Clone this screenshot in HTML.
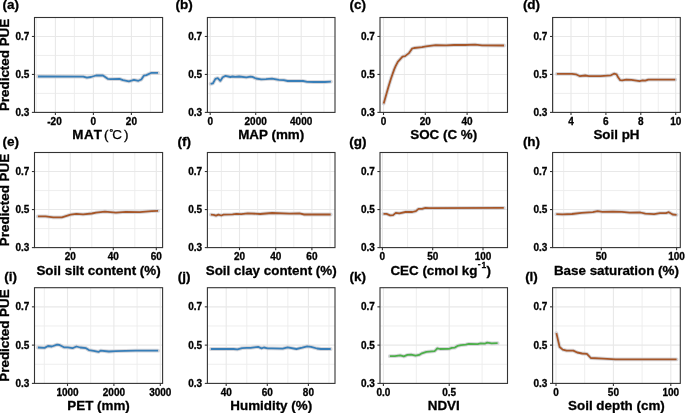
<!DOCTYPE html>
<html><head><meta charset="utf-8"><title>PDP</title><style>
html,body{margin:0;padding:0;background:#fff;}
svg{display:block;will-change:transform;}
text{font-family:"Liberation Sans",sans-serif;font-weight:bold;fill:#000;stroke:#000;stroke-width:0.3px;}
.tl{font-size:10px;}
.xt{font-size:13.4px;}
.tag{font-size:13.5px;}
.gm{stroke:#ececec;stroke-width:0.9;}
.gM{stroke:#e8e8e8;stroke-width:1.1;}
.bd{fill:none;stroke:#333;stroke-width:1.1;}
.tk{stroke:#333;stroke-width:1.1;}
.halo{fill:none;stroke:#c9c9cf;stroke-width:3.8;stroke-linejoin:round;stroke-linecap:round;opacity:0.75;}
.ln{fill:none;stroke-width:1.8;stroke-linejoin:round;stroke-linecap:butt;}
</style></head>
<body><svg width="685" height="413" viewBox="0 0 685 413">
<rect width="685" height="413" fill="#fff"/>
<line x1="34.5" x2="162.6" y1="93.42" y2="93.42" class="gm"/>
<line x1="34.5" x2="162.6" y1="55.46" y2="55.46" class="gm"/>
<line x1="36.4" x2="36.4" y1="17.5" y2="112.4" class="gm"/>
<line x1="74.4" x2="74.4" y1="17.5" y2="112.4" class="gm"/>
<line x1="112.4" x2="112.4" y1="17.5" y2="112.4" class="gm"/>
<line x1="150.4" x2="150.4" y1="17.5" y2="112.4" class="gm"/>
<line x1="34.5" x2="162.6" y1="74.44" y2="74.44" class="gM"/>
<line x1="34.5" x2="162.6" y1="36.48" y2="36.48" class="gM"/>
<line x1="55.4" x2="55.4" y1="17.5" y2="112.4" class="gM"/>
<line x1="93.4" x2="93.4" y1="17.5" y2="112.4" class="gM"/>
<line x1="131.4" x2="131.4" y1="17.5" y2="112.4" class="gM"/>
<path d="M38,76.5 L83.3,76.6 L86.9,77.7 L91,77 L96,75.5 L103,75.5 L107.7,78.8 L110.7,79.2 L119.5,78.9 L123,80.2 L128.9,81.3 L134,79.9 L138.4,80.8 L141.3,79.5 L143.8,75.7 L146.4,75.1 L151.5,72.8 L158,72.9" class="halo"/>
<path d="M38,76.5 L83.3,76.6 L86.9,77.7 L91,77 L96,75.5 L103,75.5 L107.7,78.8 L110.7,79.2 L119.5,78.9 L123,80.2 L128.9,81.3 L134,79.9 L138.4,80.8 L141.3,79.5 L143.8,75.7 L146.4,75.1 L151.5,72.8 L158,72.9" class="ln" stroke="#377EB8"/>
<rect x="34.5" y="17.5" width="128.1" height="94.9" class="bd"/>
<line x1="31.9" x2="34.5" y1="112.4" y2="112.4" class="tk"/>
<text x="29.3" y="115.9" text-anchor="end" class="tl">0.3</text>
<line x1="31.9" x2="34.5" y1="74.44" y2="74.44" class="tk"/>
<text x="29.3" y="77.94" text-anchor="end" class="tl">0.5</text>
<line x1="31.9" x2="34.5" y1="36.48" y2="36.48" class="tk"/>
<text x="29.3" y="39.98" text-anchor="end" class="tl">0.7</text>
<line x1="55.4" x2="55.4" y1="112.4" y2="115" class="tk"/>
<text x="54.5" y="124.7" text-anchor="middle" class="tl">-20</text>
<line x1="93.4" x2="93.4" y1="112.4" y2="115" class="tk"/>
<text x="93.4" y="124.7" text-anchor="middle" class="tl">0</text>
<line x1="131.4" x2="131.4" y1="112.4" y2="115" class="tk"/>
<text x="131.4" y="124.7" text-anchor="middle" class="tl">20</text>
<text x="72.3" y="139.4" class="xt">M</text>
<text x="84" y="139.4" class="xt">A</text>
<text x="93.8" y="139.4" class="xt">T</text>
<text x="104.1" y="138.5" class="xt" style="font-weight:normal;stroke:#000;stroke-width:0.35">(</text>
<text x="109.6" y="134.8" font-size="9">°</text>
<text x="112.3" y="138.8" class="xt" style="font-weight:normal;stroke:#000;stroke-width:0.25">C</text>
<text x="123.9" y="138.5" class="xt" style="font-weight:normal;stroke:#000;stroke-width:0.35">)</text>
<text transform="translate(9.1,64.95) rotate(-90)" text-anchor="middle" class="xt">Predicted PUE</text>
<text x="10.7" y="9.3" text-anchor="middle" class="tag">(a)</text>
<line x1="207.4" x2="335" y1="93.42" y2="93.42" class="gm"/>
<line x1="207.4" x2="335" y1="55.46" y2="55.46" class="gm"/>
<line x1="232.95" x2="232.95" y1="17.5" y2="112.4" class="gm"/>
<line x1="278.45" x2="278.45" y1="17.5" y2="112.4" class="gm"/>
<line x1="323.95" x2="323.95" y1="17.5" y2="112.4" class="gm"/>
<line x1="207.4" x2="335" y1="74.44" y2="74.44" class="gM"/>
<line x1="207.4" x2="335" y1="36.48" y2="36.48" class="gM"/>
<line x1="210.2" x2="210.2" y1="17.5" y2="112.4" class="gM"/>
<line x1="255.7" x2="255.7" y1="17.5" y2="112.4" class="gM"/>
<line x1="301.2" x2="301.2" y1="17.5" y2="112.4" class="gM"/>
<path d="M210.6,83.8 L213,83.3 L215.4,78.9 L217.8,78.1 L220.3,80.9 L222.7,77.3 L225.5,75.9 L230.3,77 L232.7,76.5 L235.1,76.9 L239.1,76.5 L246.4,77.3 L250.4,76.7 L252.4,76.9 L256,78.5 L261.2,79.3 L266,79.1 L272,78.6 L278.9,79.8 L283.7,80.1 L287.7,81 L299.8,81 L303.1,81 L307.2,81.8 L314,82 L324.8,82 L330.9,81.7" class="halo"/>
<path d="M210.6,83.8 L213,83.3 L215.4,78.9 L217.8,78.1 L220.3,80.9 L222.7,77.3 L225.5,75.9 L230.3,77 L232.7,76.5 L235.1,76.9 L239.1,76.5 L246.4,77.3 L250.4,76.7 L252.4,76.9 L256,78.5 L261.2,79.3 L266,79.1 L272,78.6 L278.9,79.8 L283.7,80.1 L287.7,81 L299.8,81 L303.1,81 L307.2,81.8 L314,82 L324.8,82 L330.9,81.7" class="ln" stroke="#377EB8"/>
<rect x="207.4" y="17.5" width="127.6" height="94.9" class="bd"/>
<line x1="204.8" x2="207.4" y1="112.4" y2="112.4" class="tk"/>
<text x="202.2" y="115.9" text-anchor="end" class="tl">0.3</text>
<line x1="204.8" x2="207.4" y1="74.44" y2="74.44" class="tk"/>
<text x="202.2" y="77.94" text-anchor="end" class="tl">0.5</text>
<line x1="204.8" x2="207.4" y1="36.48" y2="36.48" class="tk"/>
<text x="202.2" y="39.98" text-anchor="end" class="tl">0.7</text>
<line x1="210.2" x2="210.2" y1="112.4" y2="115" class="tk"/>
<text x="210.2" y="124.7" text-anchor="middle" class="tl">0</text>
<line x1="255.7" x2="255.7" y1="112.4" y2="115" class="tk"/>
<text x="255.7" y="124.7" text-anchor="middle" class="tl">2000</text>
<line x1="301.2" x2="301.2" y1="112.4" y2="115" class="tk"/>
<text x="301.2" y="124.7" text-anchor="middle" class="tl">4000</text>
<text x="271.2" y="139.4" text-anchor="middle" class="xt">MAP (mm)</text>
<text x="184.2" y="9.3" text-anchor="middle" class="tag">(b)</text>
<line x1="380" x2="507.5" y1="93.42" y2="93.42" class="gm"/>
<line x1="380" x2="507.5" y1="55.46" y2="55.46" class="gm"/>
<line x1="404.4" x2="404.4" y1="17.5" y2="112.4" class="gm"/>
<line x1="446.2" x2="446.2" y1="17.5" y2="112.4" class="gm"/>
<line x1="488" x2="488" y1="17.5" y2="112.4" class="gm"/>
<line x1="380" x2="507.5" y1="74.44" y2="74.44" class="gM"/>
<line x1="380" x2="507.5" y1="36.48" y2="36.48" class="gM"/>
<line x1="383.5" x2="383.5" y1="17.5" y2="112.4" class="gM"/>
<line x1="425.3" x2="425.3" y1="17.5" y2="112.4" class="gM"/>
<line x1="467.1" x2="467.1" y1="17.5" y2="112.4" class="gM"/>
<path d="M383.7,103.5 L388.4,86.9 L391,78.5 L394.2,69.4 L395.6,66.1 L397.8,61.8 L402.5,56.7 L405.1,56.1 L409,53.1 L412,48.7 L414.1,48 L420,47.3 L422,47.2 L426.1,46.3 L435.7,45.1 L446.1,45.4 L454.2,45 L465,45 L475.2,44.7 L482,45.4 L504,45.5" class="halo"/>
<path d="M383.7,103.5 L388.4,86.9 L391,78.5 L394.2,69.4 L395.6,66.1 L397.8,61.8 L402.5,56.7 L405.1,56.1 L409,53.1 L412,48.7 L414.1,48 L420,47.3 L422,47.2 L426.1,46.3 L435.7,45.1 L446.1,45.4 L454.2,45 L465,45 L475.2,44.7 L482,45.4 L504,45.5" class="ln" stroke="#A65628"/>
<rect x="380" y="17.5" width="127.5" height="94.9" class="bd"/>
<line x1="377.4" x2="380" y1="112.4" y2="112.4" class="tk"/>
<text x="374.8" y="115.9" text-anchor="end" class="tl">0.3</text>
<line x1="377.4" x2="380" y1="74.44" y2="74.44" class="tk"/>
<text x="374.8" y="77.94" text-anchor="end" class="tl">0.5</text>
<line x1="377.4" x2="380" y1="36.48" y2="36.48" class="tk"/>
<text x="374.8" y="39.98" text-anchor="end" class="tl">0.7</text>
<line x1="383.5" x2="383.5" y1="112.4" y2="115" class="tk"/>
<text x="383.5" y="124.7" text-anchor="middle" class="tl">0</text>
<line x1="425.3" x2="425.3" y1="112.4" y2="115" class="tk"/>
<text x="425.3" y="124.7" text-anchor="middle" class="tl">20</text>
<line x1="467.1" x2="467.1" y1="112.4" y2="115" class="tk"/>
<text x="467.1" y="124.7" text-anchor="middle" class="tl">40</text>
<text x="443.75" y="139.4" text-anchor="middle" class="xt">SOC (C %)</text>
<text x="357.8" y="9.3" text-anchor="middle" class="tag">(c)</text>
<line x1="552.6" x2="680.3" y1="93.42" y2="93.42" class="gm"/>
<line x1="552.6" x2="680.3" y1="55.46" y2="55.46" class="gm"/>
<line x1="553.55" x2="553.55" y1="17.5" y2="112.4" class="gm"/>
<line x1="588.45" x2="588.45" y1="17.5" y2="112.4" class="gm"/>
<line x1="623.35" x2="623.35" y1="17.5" y2="112.4" class="gm"/>
<line x1="658.25" x2="658.25" y1="17.5" y2="112.4" class="gm"/>
<line x1="552.6" x2="680.3" y1="74.44" y2="74.44" class="gM"/>
<line x1="552.6" x2="680.3" y1="36.48" y2="36.48" class="gM"/>
<line x1="571" x2="571" y1="17.5" y2="112.4" class="gM"/>
<line x1="605.9" x2="605.9" y1="17.5" y2="112.4" class="gM"/>
<line x1="640.8" x2="640.8" y1="17.5" y2="112.4" class="gM"/>
<line x1="675.7" x2="675.7" y1="17.5" y2="112.4" class="gM"/>
<path d="M556.8,73.9 L572,73.9 L575.8,74.3 L580,76.2 L585.3,75.5 L589,76.2 L600.4,76.2 L610.9,75.3 L614,73.7 L616.6,74.3 L618.1,77.3 L620.2,80.2 L622.2,80.4 L626.3,79.6 L631.4,79.9 L639.6,81.1 L642.6,80.4 L645.2,80.7 L648.3,79.6 L675.3,79.6" class="halo"/>
<path d="M556.8,73.9 L572,73.9 L575.8,74.3 L580,76.2 L585.3,75.5 L589,76.2 L600.4,76.2 L610.9,75.3 L614,73.7 L616.6,74.3 L618.1,77.3 L620.2,80.2 L622.2,80.4 L626.3,79.6 L631.4,79.9 L639.6,81.1 L642.6,80.4 L645.2,80.7 L648.3,79.6 L675.3,79.6" class="ln" stroke="#A65628"/>
<rect x="552.6" y="17.5" width="127.7" height="94.9" class="bd"/>
<line x1="550" x2="552.6" y1="112.4" y2="112.4" class="tk"/>
<text x="547.4" y="115.9" text-anchor="end" class="tl">0.3</text>
<line x1="550" x2="552.6" y1="74.44" y2="74.44" class="tk"/>
<text x="547.4" y="77.94" text-anchor="end" class="tl">0.5</text>
<line x1="550" x2="552.6" y1="36.48" y2="36.48" class="tk"/>
<text x="547.4" y="39.98" text-anchor="end" class="tl">0.7</text>
<line x1="571" x2="571" y1="112.4" y2="115" class="tk"/>
<text x="571" y="124.7" text-anchor="middle" class="tl">4</text>
<line x1="605.9" x2="605.9" y1="112.4" y2="115" class="tk"/>
<text x="605.9" y="124.7" text-anchor="middle" class="tl">6</text>
<line x1="640.8" x2="640.8" y1="112.4" y2="115" class="tk"/>
<text x="640.8" y="124.7" text-anchor="middle" class="tl">8</text>
<line x1="675.7" x2="675.7" y1="112.4" y2="115" class="tk"/>
<text x="675.7" y="124.7" text-anchor="middle" class="tl">10</text>
<text x="616.45" y="139.4" text-anchor="middle" class="xt">Soil pH</text>
<text x="531.5" y="9.3" text-anchor="middle" class="tag">(d)</text>
<line x1="34.5" x2="162.6" y1="228.58" y2="228.58" class="gm"/>
<line x1="34.5" x2="162.6" y1="190.54" y2="190.54" class="gm"/>
<line x1="48.8" x2="48.8" y1="152.5" y2="247.6" class="gm"/>
<line x1="91.8" x2="91.8" y1="152.5" y2="247.6" class="gm"/>
<line x1="134.8" x2="134.8" y1="152.5" y2="247.6" class="gm"/>
<line x1="34.5" x2="162.6" y1="209.56" y2="209.56" class="gM"/>
<line x1="34.5" x2="162.6" y1="171.52" y2="171.52" class="gM"/>
<line x1="70.3" x2="70.3" y1="152.5" y2="247.6" class="gM"/>
<line x1="113.3" x2="113.3" y1="152.5" y2="247.6" class="gM"/>
<line x1="156.3" x2="156.3" y1="152.5" y2="247.6" class="gM"/>
<path d="M37.9,216.4 L45.6,216.4 L53.3,217.3 L61.9,217.3 L70.6,214.6 L76.4,213.8 L83.1,214.3 L91.8,213.5 L96,212.7 L104.9,211.7 L115.9,212.7 L125.8,211.9 L139.7,212.1 L151.6,211.1 L158.1,210.9" class="halo"/>
<path d="M37.9,216.4 L45.6,216.4 L53.3,217.3 L61.9,217.3 L70.6,214.6 L76.4,213.8 L83.1,214.3 L91.8,213.5 L96,212.7 L104.9,211.7 L115.9,212.7 L125.8,211.9 L139.7,212.1 L151.6,211.1 L158.1,210.9" class="ln" stroke="#A65628"/>
<rect x="34.5" y="152.5" width="128.1" height="95.1" class="bd"/>
<line x1="31.9" x2="34.5" y1="247.6" y2="247.6" class="tk"/>
<text x="29.3" y="251.1" text-anchor="end" class="tl">0.3</text>
<line x1="31.9" x2="34.5" y1="209.56" y2="209.56" class="tk"/>
<text x="29.3" y="213.06" text-anchor="end" class="tl">0.5</text>
<line x1="31.9" x2="34.5" y1="171.52" y2="171.52" class="tk"/>
<text x="29.3" y="175.02" text-anchor="end" class="tl">0.7</text>
<line x1="70.3" x2="70.3" y1="247.6" y2="250.2" class="tk"/>
<text x="70.3" y="259.9" text-anchor="middle" class="tl">20</text>
<line x1="113.3" x2="113.3" y1="247.6" y2="250.2" class="tk"/>
<text x="113.3" y="259.9" text-anchor="middle" class="tl">40</text>
<line x1="156.3" x2="156.3" y1="247.6" y2="250.2" class="tk"/>
<text x="156.3" y="259.9" text-anchor="middle" class="tl">60</text>
<text x="98.55" y="274.6" text-anchor="middle" class="xt">Soil silt content (%)</text>
<text transform="translate(9.1,200.05) rotate(-90)" text-anchor="middle" class="xt">Predicted PUE</text>
<text x="10.7" y="145.6" text-anchor="middle" class="tag">(e)</text>
<line x1="207.4" x2="335" y1="228.58" y2="228.58" class="gm"/>
<line x1="207.4" x2="335" y1="190.54" y2="190.54" class="gm"/>
<line x1="221.4" x2="221.4" y1="152.5" y2="247.6" class="gm"/>
<line x1="257.6" x2="257.6" y1="152.5" y2="247.6" class="gm"/>
<line x1="293.8" x2="293.8" y1="152.5" y2="247.6" class="gm"/>
<line x1="330" x2="330" y1="152.5" y2="247.6" class="gm"/>
<line x1="207.4" x2="335" y1="209.56" y2="209.56" class="gM"/>
<line x1="207.4" x2="335" y1="171.52" y2="171.52" class="gM"/>
<line x1="239.5" x2="239.5" y1="152.5" y2="247.6" class="gM"/>
<line x1="275.7" x2="275.7" y1="152.5" y2="247.6" class="gM"/>
<line x1="311.9" x2="311.9" y1="152.5" y2="247.6" class="gM"/>
<path d="M210.8,214.7 L213.6,214.9 L216,215.7 L218.4,214.7 L221.2,215.5 L223.6,214.7 L232.6,214.4 L236.4,213.8 L241.2,214.2 L247.8,213.3 L260.1,214 L272,213 L289.6,213.7 L299.4,213.4 L304.2,214.5 L330.7,214.5" class="halo"/>
<path d="M210.8,214.7 L213.6,214.9 L216,215.7 L218.4,214.7 L221.2,215.5 L223.6,214.7 L232.6,214.4 L236.4,213.8 L241.2,214.2 L247.8,213.3 L260.1,214 L272,213 L289.6,213.7 L299.4,213.4 L304.2,214.5 L330.7,214.5" class="ln" stroke="#A65628"/>
<rect x="207.4" y="152.5" width="127.6" height="95.1" class="bd"/>
<line x1="204.8" x2="207.4" y1="247.6" y2="247.6" class="tk"/>
<text x="202.2" y="251.1" text-anchor="end" class="tl">0.3</text>
<line x1="204.8" x2="207.4" y1="209.56" y2="209.56" class="tk"/>
<text x="202.2" y="213.06" text-anchor="end" class="tl">0.5</text>
<line x1="204.8" x2="207.4" y1="171.52" y2="171.52" class="tk"/>
<text x="202.2" y="175.02" text-anchor="end" class="tl">0.7</text>
<line x1="239.5" x2="239.5" y1="247.6" y2="250.2" class="tk"/>
<text x="239.5" y="259.9" text-anchor="middle" class="tl">20</text>
<line x1="275.7" x2="275.7" y1="247.6" y2="250.2" class="tk"/>
<text x="275.7" y="259.9" text-anchor="middle" class="tl">40</text>
<line x1="311.9" x2="311.9" y1="247.6" y2="250.2" class="tk"/>
<text x="311.9" y="259.9" text-anchor="middle" class="tl">60</text>
<text x="271.2" y="274.6" text-anchor="middle" class="xt">Soil clay content (%)</text>
<text x="184.2" y="145.6" text-anchor="middle" class="tag">(f)</text>
<line x1="380" x2="507.5" y1="228.58" y2="228.58" class="gm"/>
<line x1="380" x2="507.5" y1="190.54" y2="190.54" class="gm"/>
<line x1="407.55" x2="407.55" y1="152.5" y2="247.6" class="gm"/>
<line x1="457.85" x2="457.85" y1="152.5" y2="247.6" class="gm"/>
<line x1="380" x2="507.5" y1="209.56" y2="209.56" class="gM"/>
<line x1="380" x2="507.5" y1="171.52" y2="171.52" class="gM"/>
<line x1="382.4" x2="382.4" y1="152.5" y2="247.6" class="gM"/>
<line x1="432.7" x2="432.7" y1="152.5" y2="247.6" class="gM"/>
<line x1="483" x2="483" y1="152.5" y2="247.6" class="gM"/>
<path d="M383.5,213.9 L386.6,213.9 L390.1,215.3 L393.1,215.1 L395.8,212.9 L399.3,213.3 L405.4,212 L412.4,212 L415.9,211.1 L418.5,208.9 L422,208.9 L425.5,207.8 L429,208.1 L503.8,207.9" class="halo"/>
<path d="M383.5,213.9 L386.6,213.9 L390.1,215.3 L393.1,215.1 L395.8,212.9 L399.3,213.3 L405.4,212 L412.4,212 L415.9,211.1 L418.5,208.9 L422,208.9 L425.5,207.8 L429,208.1 L503.8,207.9" class="ln" stroke="#A65628"/>
<rect x="380" y="152.5" width="127.5" height="95.1" class="bd"/>
<line x1="377.4" x2="380" y1="247.6" y2="247.6" class="tk"/>
<text x="374.8" y="251.1" text-anchor="end" class="tl">0.3</text>
<line x1="377.4" x2="380" y1="209.56" y2="209.56" class="tk"/>
<text x="374.8" y="213.06" text-anchor="end" class="tl">0.5</text>
<line x1="377.4" x2="380" y1="171.52" y2="171.52" class="tk"/>
<text x="374.8" y="175.02" text-anchor="end" class="tl">0.7</text>
<line x1="382.4" x2="382.4" y1="247.6" y2="250.2" class="tk"/>
<text x="382.4" y="259.9" text-anchor="middle" class="tl">0</text>
<line x1="432.7" x2="432.7" y1="247.6" y2="250.2" class="tk"/>
<text x="432.7" y="259.9" text-anchor="middle" class="tl">50</text>
<line x1="483" x2="483" y1="247.6" y2="250.2" class="tk"/>
<text x="483" y="259.9" text-anchor="middle" class="tl">100</text>
<text x="390.4" y="274.6" class="xt">CEC (cmol kg</text>
<text x="477.8" y="267.4" font-size="8.5">-</text>
<text x="481.6" y="268.2" font-size="8.5">1</text>
<text x="486.5" y="274.6" class="xt">)</text>
<text x="357.8" y="145.6" text-anchor="middle" class="tag">(g)</text>
<line x1="552.6" x2="680.3" y1="228.58" y2="228.58" class="gm"/>
<line x1="552.6" x2="680.3" y1="190.54" y2="190.54" class="gm"/>
<line x1="563.65" x2="563.65" y1="152.5" y2="247.6" class="gm"/>
<line x1="638.95" x2="638.95" y1="152.5" y2="247.6" class="gm"/>
<line x1="552.6" x2="680.3" y1="209.56" y2="209.56" class="gM"/>
<line x1="552.6" x2="680.3" y1="171.52" y2="171.52" class="gM"/>
<line x1="601.3" x2="601.3" y1="152.5" y2="247.6" class="gM"/>
<line x1="676.6" x2="676.6" y1="152.5" y2="247.6" class="gM"/>
<path d="M556.3,214.2 L562.5,214.4 L572,214 L581.5,212.8 L592.8,212.1 L597.6,211.2 L602.3,211.9 L612.8,211.7 L621.8,211.9 L629.7,212.6 L640.4,212.5 L645.3,213.7 L654.1,214.2 L660,213.2 L665.9,213.2 L668.8,212.2 L672.7,214.5 L676.6,214.9" class="halo"/>
<path d="M556.3,214.2 L562.5,214.4 L572,214 L581.5,212.8 L592.8,212.1 L597.6,211.2 L602.3,211.9 L612.8,211.7 L621.8,211.9 L629.7,212.6 L640.4,212.5 L645.3,213.7 L654.1,214.2 L660,213.2 L665.9,213.2 L668.8,212.2 L672.7,214.5 L676.6,214.9" class="ln" stroke="#A65628"/>
<rect x="552.6" y="152.5" width="127.7" height="95.1" class="bd"/>
<line x1="550" x2="552.6" y1="247.6" y2="247.6" class="tk"/>
<text x="547.4" y="251.1" text-anchor="end" class="tl">0.3</text>
<line x1="550" x2="552.6" y1="209.56" y2="209.56" class="tk"/>
<text x="547.4" y="213.06" text-anchor="end" class="tl">0.5</text>
<line x1="550" x2="552.6" y1="171.52" y2="171.52" class="tk"/>
<text x="547.4" y="175.02" text-anchor="end" class="tl">0.7</text>
<line x1="601.3" x2="601.3" y1="247.6" y2="250.2" class="tk"/>
<text x="601.3" y="259.9" text-anchor="middle" class="tl">50</text>
<line x1="676.6" x2="676.6" y1="247.6" y2="250.2" class="tk"/>
<text x="676.6" y="259.9" text-anchor="middle" class="tl">100</text>
<text x="616.45" y="274.6" text-anchor="middle" class="xt">Base saturation (%)</text>
<text x="531.5" y="145.6" text-anchor="middle" class="tag">(h)</text>
<line x1="34.5" x2="162.6" y1="364.26" y2="364.26" class="gm"/>
<line x1="34.5" x2="162.6" y1="325.98" y2="325.98" class="gm"/>
<line x1="44.3" x2="44.3" y1="287.7" y2="383.4" class="gm"/>
<line x1="90.7" x2="90.7" y1="287.7" y2="383.4" class="gm"/>
<line x1="137.1" x2="137.1" y1="287.7" y2="383.4" class="gm"/>
<line x1="34.5" x2="162.6" y1="345.12" y2="345.12" class="gM"/>
<line x1="34.5" x2="162.6" y1="306.84" y2="306.84" class="gM"/>
<line x1="67.5" x2="67.5" y1="287.7" y2="383.4" class="gM"/>
<line x1="113.9" x2="113.9" y1="287.7" y2="383.4" class="gM"/>
<line x1="160.3" x2="160.3" y1="287.7" y2="383.4" class="gM"/>
<path d="M37.9,347.5 L44.6,347.9 L48,346 L51.8,346.5 L57.1,344.6 L59.5,345 L63.9,347.3 L67.7,347.3 L72.5,348.2 L76.4,346.5 L80.2,347.5 L86,348.2 L88.9,350.1 L93.7,350.8 L98.5,351.9 L100.5,350.7 L108.9,351.5 L115.9,351.1 L135.7,350.7 L158.1,350.7" class="halo"/>
<path d="M37.9,347.5 L44.6,347.9 L48,346 L51.8,346.5 L57.1,344.6 L59.5,345 L63.9,347.3 L67.7,347.3 L72.5,348.2 L76.4,346.5 L80.2,347.5 L86,348.2 L88.9,350.1 L93.7,350.8 L98.5,351.9 L100.5,350.7 L108.9,351.5 L115.9,351.1 L135.7,350.7 L158.1,350.7" class="ln" stroke="#377EB8"/>
<rect x="34.5" y="287.7" width="128.1" height="95.7" class="bd"/>
<line x1="31.9" x2="34.5" y1="383.4" y2="383.4" class="tk"/>
<text x="29.3" y="386.9" text-anchor="end" class="tl">0.3</text>
<line x1="31.9" x2="34.5" y1="345.12" y2="345.12" class="tk"/>
<text x="29.3" y="348.62" text-anchor="end" class="tl">0.5</text>
<line x1="31.9" x2="34.5" y1="306.84" y2="306.84" class="tk"/>
<text x="29.3" y="310.34" text-anchor="end" class="tl">0.7</text>
<line x1="67.5" x2="67.5" y1="383.4" y2="386" class="tk"/>
<text x="67.5" y="395.7" text-anchor="middle" class="tl">1000</text>
<line x1="113.9" x2="113.9" y1="383.4" y2="386" class="tk"/>
<text x="113.9" y="395.7" text-anchor="middle" class="tl">2000</text>
<line x1="160.3" x2="160.3" y1="383.4" y2="386" class="tk"/>
<text x="160.3" y="395.7" text-anchor="middle" class="tl">3000</text>
<text x="98.55" y="410.4" text-anchor="middle" class="xt">PET (mm)</text>
<text transform="translate(9.1,335.55) rotate(-90)" text-anchor="middle" class="xt">Predicted PUE</text>
<text x="10.7" y="280.5" text-anchor="middle" class="tag">(i)</text>
<line x1="207.4" x2="335" y1="364.26" y2="364.26" class="gm"/>
<line x1="207.4" x2="335" y1="325.98" y2="325.98" class="gm"/>
<line x1="246.75" x2="246.75" y1="287.7" y2="383.4" class="gm"/>
<line x1="287.85" x2="287.85" y1="287.7" y2="383.4" class="gm"/>
<line x1="328.95" x2="328.95" y1="287.7" y2="383.4" class="gm"/>
<line x1="207.4" x2="335" y1="345.12" y2="345.12" class="gM"/>
<line x1="207.4" x2="335" y1="306.84" y2="306.84" class="gM"/>
<line x1="226.2" x2="226.2" y1="287.7" y2="383.4" class="gM"/>
<line x1="267.3" x2="267.3" y1="287.7" y2="383.4" class="gM"/>
<line x1="308.4" x2="308.4" y1="287.7" y2="383.4" class="gM"/>
<path d="M210.8,349 L233.6,349 L237.4,349.4 L242.1,348.1 L246.8,347.8 L250.6,347.8 L258.2,346.9 L261.6,348.3 L263.9,347.5 L267.7,348.3 L272,348.3 L282.7,348.7 L287.6,347.4 L296.4,349 L302.3,347.7 L307.2,346.4 L311.1,346.9 L317,348.5 L320.9,349 L330.7,349" class="halo"/>
<path d="M210.8,349 L233.6,349 L237.4,349.4 L242.1,348.1 L246.8,347.8 L250.6,347.8 L258.2,346.9 L261.6,348.3 L263.9,347.5 L267.7,348.3 L272,348.3 L282.7,348.7 L287.6,347.4 L296.4,349 L302.3,347.7 L307.2,346.4 L311.1,346.9 L317,348.5 L320.9,349 L330.7,349" class="ln" stroke="#377EB8"/>
<rect x="207.4" y="287.7" width="127.6" height="95.7" class="bd"/>
<line x1="204.8" x2="207.4" y1="383.4" y2="383.4" class="tk"/>
<text x="202.2" y="386.9" text-anchor="end" class="tl">0.3</text>
<line x1="204.8" x2="207.4" y1="345.12" y2="345.12" class="tk"/>
<text x="202.2" y="348.62" text-anchor="end" class="tl">0.5</text>
<line x1="204.8" x2="207.4" y1="306.84" y2="306.84" class="tk"/>
<text x="202.2" y="310.34" text-anchor="end" class="tl">0.7</text>
<line x1="226.2" x2="226.2" y1="383.4" y2="386" class="tk"/>
<text x="226.2" y="395.7" text-anchor="middle" class="tl">40</text>
<line x1="267.3" x2="267.3" y1="383.4" y2="386" class="tk"/>
<text x="267.3" y="395.7" text-anchor="middle" class="tl">60</text>
<line x1="308.4" x2="308.4" y1="383.4" y2="386" class="tk"/>
<text x="308.4" y="395.7" text-anchor="middle" class="tl">80</text>
<text x="271.2" y="410.4" text-anchor="middle" class="xt">Humidity (%)</text>
<text x="184.2" y="280.5" text-anchor="middle" class="tag">(j)</text>
<line x1="380" x2="507.5" y1="364.26" y2="364.26" class="gm"/>
<line x1="380" x2="507.5" y1="325.98" y2="325.98" class="gm"/>
<line x1="416.3" x2="416.3" y1="287.7" y2="383.4" class="gm"/>
<line x1="482.1" x2="482.1" y1="287.7" y2="383.4" class="gm"/>
<line x1="380" x2="507.5" y1="345.12" y2="345.12" class="gM"/>
<line x1="380" x2="507.5" y1="306.84" y2="306.84" class="gM"/>
<line x1="383.4" x2="383.4" y1="287.7" y2="383.4" class="gM"/>
<line x1="449.2" x2="449.2" y1="287.7" y2="383.4" class="gM"/>
<path d="M389.8,356.2 L394.8,356.1 L400.2,355.3 L403.8,356.4 L407.4,354.9 L411.1,354.6 L415.6,355.6 L419.2,354.9 L421.9,353.3 L426.4,351.9 L434.6,351.1 L435.9,349.9 L437.3,348.3 L440,349 L448.9,348.9 L451.9,347.9 L454.9,347.6 L457.4,345.9 L460.9,345.1 L465.8,344.7 L468.8,343.9 L477.7,344.1 L480.7,343.4 L484.7,343.7 L487.2,342.6 L491.6,343.4 L497.6,343.2" class="halo"/>
<path d="M389.8,356.2 L394.8,356.1 L400.2,355.3 L403.8,356.4 L407.4,354.9 L411.1,354.6 L415.6,355.6 L419.2,354.9 L421.9,353.3 L426.4,351.9 L434.6,351.1 L435.9,349.9 L437.3,348.3 L440,349 L448.9,348.9 L451.9,347.9 L454.9,347.6 L457.4,345.9 L460.9,345.1 L465.8,344.7 L468.8,343.9 L477.7,344.1 L480.7,343.4 L484.7,343.7 L487.2,342.6 L491.6,343.4 L497.6,343.2" class="ln" stroke="#4DAF4A"/>
<rect x="380" y="287.7" width="127.5" height="95.7" class="bd"/>
<line x1="377.4" x2="380" y1="383.4" y2="383.4" class="tk"/>
<text x="374.8" y="386.9" text-anchor="end" class="tl">0.3</text>
<line x1="377.4" x2="380" y1="345.12" y2="345.12" class="tk"/>
<text x="374.8" y="348.62" text-anchor="end" class="tl">0.5</text>
<line x1="377.4" x2="380" y1="306.84" y2="306.84" class="tk"/>
<text x="374.8" y="310.34" text-anchor="end" class="tl">0.7</text>
<line x1="383.4" x2="383.4" y1="383.4" y2="386" class="tk"/>
<text x="383.4" y="395.7" text-anchor="middle" class="tl">0.0</text>
<line x1="449.2" x2="449.2" y1="383.4" y2="386" class="tk"/>
<text x="449.2" y="395.7" text-anchor="middle" class="tl">0.5</text>
<text x="443.75" y="410.4" text-anchor="middle" class="xt">NDVI</text>
<text x="357.8" y="280.5" text-anchor="middle" class="tag">(k)</text>
<line x1="552.6" x2="680.3" y1="364.26" y2="364.26" class="gm"/>
<line x1="552.6" x2="680.3" y1="325.98" y2="325.98" class="gm"/>
<line x1="584.7" x2="584.7" y1="287.7" y2="383.4" class="gm"/>
<line x1="642.1" x2="642.1" y1="287.7" y2="383.4" class="gm"/>
<line x1="552.6" x2="680.3" y1="345.12" y2="345.12" class="gM"/>
<line x1="552.6" x2="680.3" y1="306.84" y2="306.84" class="gM"/>
<line x1="556" x2="556" y1="287.7" y2="383.4" class="gM"/>
<line x1="613.4" x2="613.4" y1="287.7" y2="383.4" class="gM"/>
<line x1="670.8" x2="670.8" y1="287.7" y2="383.4" class="gM"/>
<path d="M556.4,333.1 L559.6,347 L562.7,349.6 L566.6,350.6 L573.3,350.6 L577.2,352.5 L582.1,353.5 L586.9,353.8 L590.8,358 L603,358.6 L615.6,359.4 L676.6,359.4" class="halo"/>
<path d="M556.4,333.1 L559.6,347 L562.7,349.6 L566.6,350.6 L573.3,350.6 L577.2,352.5 L582.1,353.5 L586.9,353.8 L590.8,358 L603,358.6 L615.6,359.4 L676.6,359.4" class="ln" stroke="#A65628"/>
<rect x="552.6" y="287.7" width="127.7" height="95.7" class="bd"/>
<line x1="550" x2="552.6" y1="383.4" y2="383.4" class="tk"/>
<text x="547.4" y="386.9" text-anchor="end" class="tl">0.3</text>
<line x1="550" x2="552.6" y1="345.12" y2="345.12" class="tk"/>
<text x="547.4" y="348.62" text-anchor="end" class="tl">0.5</text>
<line x1="550" x2="552.6" y1="306.84" y2="306.84" class="tk"/>
<text x="547.4" y="310.34" text-anchor="end" class="tl">0.7</text>
<line x1="556" x2="556" y1="383.4" y2="386" class="tk"/>
<text x="556" y="395.7" text-anchor="middle" class="tl">0</text>
<line x1="613.4" x2="613.4" y1="383.4" y2="386" class="tk"/>
<text x="613.4" y="395.7" text-anchor="middle" class="tl">50</text>
<line x1="670.8" x2="670.8" y1="383.4" y2="386" class="tk"/>
<text x="670.8" y="395.7" text-anchor="middle" class="tl">100</text>
<text x="616.45" y="410.4" text-anchor="middle" class="xt">Soil depth (cm)</text>
<text x="531.5" y="280.5" text-anchor="middle" class="tag">(l)</text>
</svg></body></html>
